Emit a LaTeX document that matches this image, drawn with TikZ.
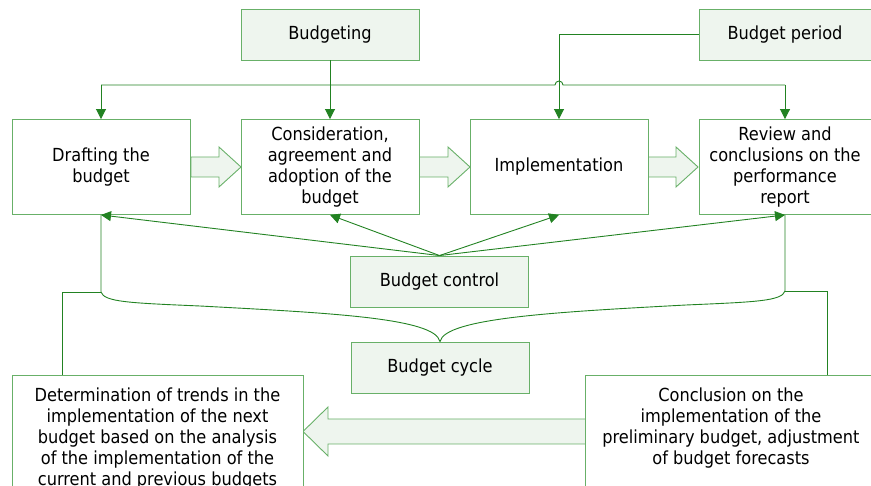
\documentclass[tikz,border=0pt]{standalone}
\usepackage{fontspec}
\setmainfont{DejaVu Sans Condensed}
\usetikzlibrary{arrows.meta}

\definecolor{boxgreen}{RGB}{104,176,104}
\definecolor{linegreen}{RGB}{34,130,34}
\definecolor{boxfill}{RGB}{238,245,238}

\tikzset{
  box/.style={draw=boxgreen, line width=0.9pt, fill=white, minimum width=178, minimum height=95, align=center, inner sep=2pt},
  tagbox/.style={box, fill=boxfill, minimum height=51},
  link/.style={draw=linegreen, line width=0.9pt},
  tip/.style={link, -{Triangle[length=10pt,width=10pt]}},
  fat/.style={draw=boxgreen, line width=0.9pt, fill=boxfill},
}

\begin{document}
\begin{tikzpicture}[x=1pt, y=-1pt, font=\fontsize{18}{21}\selectfont]

\useasboundingbox (0,0) rectangle (871,486);
\clip (0,0) rectangle (871,486);

% wide arrows
\draw[fat] (191,157) -- (219,157) -- (219,147) -- (241,167) -- (219,187) -- (219,177) -- (191,177) -- cycle;
\draw[fat] (419,157) -- (448,157) -- (448,147) -- (470,167) -- (448,187) -- (448,177) -- (419,177) -- cycle;
\draw[fat] (648,157) -- (676,157) -- (676,147) -- (698,167) -- (676,187) -- (676,177) -- (648,177) -- cycle;
\draw[fat] (586,419) -- (328,419) -- (328,407) -- (303,431.5) -- (328,456) -- (328,444) -- (586,444) -- cycle;

% nodes
\node[box] (draft) at (101,167) {Drafting the\\budget};
\node[box] (consider) at (330,167) {Consideration,\\agreement and\\adoption of the\\budget};
\node[box] (implement) at (559,167) {Implementation};
\node[box, minimum width=172] (review) at (785,167) {Review and\\conclusions on the\\performance\\report};

\node[tagbox] (budgeting) at (330,34.5) {Budgeting};
\node[tagbox, minimum width=172] (period) at (785,34.5) {Budget period};
\node[tagbox] (control) at (439.5,281.5) {Budget control};
\node[tagbox] (cycle) at (440,367.5) {Budget cycle};

\node[box, minimum width=291, minimum height=130, anchor=north west] (trends) at (12,375) {};
\node[box, minimum width=292, minimum height=130, anchor=north west] (conclusion) at (585,375) {};
\node[anchor=north, align=center, inner sep=0] (trendstext) at (157.5,388) {Determination of trends in the\\implementation of the next\\budget based on the analysis\\of the implementation of the\\current and previous budgets};
\node[anchor=north, align=center, inner sep=0] (conclusiontext) at (731,388) {Conclusion on the\\implementation of the\\preliminary budget, adjustment\\of budget forecasts};

% top connectors
\coordinate (busL) at (101,85);
\coordinate (busR) at (785,85);
\draw[tip] (budgeting.south) -- (consider.north);
\draw[link] (busL) -- (555,85) arc[start angle=180, end angle=0, radius=4pt] -- (busR);
\draw[tip] (busL) -- (draft.north);
\draw[tip] (busR) -- (review.north);
\draw[tip] (period.west) -| (implement.north);

% control
\draw[tip] (control.north) -- (draft.south);
\draw[tip] (control.north) -- (consider.south);
\draw[tip] (control.north) -- (implement.south);
\draw[tip] (control.north) -- (review.south);

% cycle brace
\coordinate (lbend) at (101,292);
\coordinate (rbend) at (785,291);
\draw[link] (draft.south) -- (lbend) .. controls (104,302) and (130,303) .. (200,306) .. controls (330,313) and (435,318) .. (cycle.north);
\draw[link] (review.south) -- (rbend) .. controls (782,301) and (756,302) .. (686,305) .. controls (556,312) and (445,318) .. (cycle.north);
\draw[link] (lbend) -| ([xshift=-96pt]trends.north);
\draw[link] (rbend) -| ([xshift=96pt]conclusion.north);

\end{tikzpicture}
\end{document}
